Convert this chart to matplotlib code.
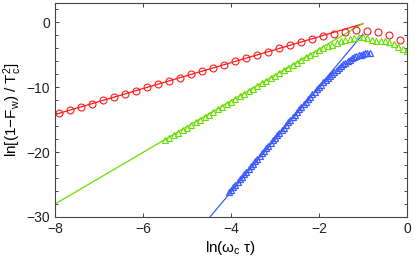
import matplotlib
matplotlib.use('Agg')
import matplotlib.pyplot as plt
from matplotlib.ticker import MultipleLocator

plt.rcParams['font.family'] = ['Liberation Sans', 'DejaVu Sans']
plt.rcParams['mathtext.fontset'] = 'custom'
plt.rcParams['mathtext.rm'] = 'Liberation Sans'
plt.rcParams['mathtext.it'] = 'Liberation Sans'

# red circles
red_x = [-7.9, -7.65, -7.4, -7.15, -6.9, -6.65, -6.4, -6.15, -5.9, -5.65, -5.4,
         -5.15, -4.9, -4.65, -4.4, -4.15, -3.9, -3.65, -3.4, -3.15, -2.9, -2.65,
         -2.4, -2.15, -1.9, -1.65, -1.4, -1.15, -0.9, -0.65, -0.4, -0.15]
red_y = [-14.0, -13.5, -13.0, -12.5, -12.0, -11.5, -11.0, -10.5, -10.0, -9.5, -9.0,
         -8.5, -8.0, -7.5, -7.0, -6.5, -6.0, -5.5, -5.0, -4.5, -4.0, -3.5,
         -3.0, -2.55, -2.15, -1.85, -1.45, -1.15, -1.25, -1.45, -2.0, -2.75]
red_fit_x = [-8.0, -1.0]
red_fit_y = [-14.2, -0.2]

# green triangles
green_x = [-5.5, -5.4, -5.3, -5.2, -5.1, -5.0, -4.9, -4.8, -4.7, -4.6, -4.5, -4.4,
           -4.3, -4.2, -4.1, -4.0, -3.9, -3.8, -3.7, -3.6, -3.5, -3.4, -3.3, -3.2,
           -3.1, -3.0, -2.9, -2.8, -2.7, -2.6, -2.5, -2.4, -2.3, -2.2, -2.1, -2.0,
           -1.9, -1.8, -1.7, -1.6, -1.5, -1.4, -1.3, -1.2, -1.1, -1.0, -0.9, -0.8,
           -0.7, -0.6, -0.5, -0.4, -0.3, -0.2, -0.1, 0.0]
green_y = [-18.2, -17.8, -17.4, -17.0, -16.6, -16.2, -15.8, -15.4, -15.0, -14.6,
           -14.2, -13.8, -13.4, -13.0, -12.6, -12.2, -11.8, -11.4, -11.0, -10.6,
           -10.2, -9.8, -9.4, -9.0, -8.6, -8.2, -7.8, -7.4, -7.0, -6.6, -6.2, -5.8,
           -5.4, -5.0, -4.65, -4.3, -4.0, -3.7, -3.4, -3.15, -2.9, -2.7, -2.5, -2.35,
           -2.25, -2.2, -2.45, -2.7, -2.85, -2.9, -2.9, -2.95, -3.3, -3.85, -4.1, -4.35]
green_fit_x = [-8.0, -1.0]
green_fit_y = [-28.0, -0.15]

# blue triangles
blue_x = [-4.05, -4.0, -3.95, -3.9, -3.85, -3.8, -3.75, -3.7, -3.65, -3.6, -3.55,
          -3.5, -3.45, -3.4, -3.35, -3.3, -3.25, -3.2, -3.15, -3.1, -3.05, -3.0,
          -2.95, -2.9, -2.85, -2.8, -2.75, -2.7, -2.65, -2.6, -2.55, -2.5, -2.45,
          -2.4, -2.35, -2.3, -2.25, -2.2, -2.15, -2.1, -2.05, -2.0, -1.95, -1.9,
          -1.85, -1.8, -1.75, -1.7, -1.65, -1.6, -1.55, -1.5, -1.45, -1.4, -1.35,
          -1.3, -1.25, -1.2, -1.15, -1.1, -1.05, -1.0, -0.95, -0.9, -0.85]
blue_y = [-26.2, -25.8, -25.4, -25.0, -24.6, -24.2, -23.8, -23.4, -23.0, -22.6,
          -22.2, -21.8, -21.4, -21.0, -20.6, -20.2, -19.8, -19.4, -19.0, -18.6,
          -18.2, -17.8, -17.4, -17.0, -16.6, -16.2, -15.8, -15.4, -15.0, -14.6,
          -14.2, -13.8, -13.4, -13.0, -12.6, -12.2, -11.8, -11.45, -11.05, -10.7,
          -10.3, -9.95, -9.6, -9.25, -8.9, -8.55, -8.2, -7.9, -7.6, -7.3, -7.0,
          -6.7, -6.45, -6.2, -5.95, -5.75, -5.55, -5.35, -5.2, -5.05, -4.95, -4.85,
          -4.75, -4.7, -4.65]
blue_fit_x = [-4.55, -1.0]
blue_fit_y = [-30.6, -1.8]

red = '#ff1a1a'
green = '#66e000'
blue = '#3a5aff'

fig = plt.figure(figsize=(4.15, 2.62), dpi=100)
ax = fig.add_axes([0.1325, 0.1718, 0.848, 0.8167])

ax.plot(red_fit_x, red_fit_y, color=red, lw=0.9)
ax.plot(green_fit_x, green_fit_y, color=green, lw=0.9)
ax.plot(blue_fit_x, blue_fit_y, color=blue, lw=0.9)
ax.plot(red_x, red_y, 'o', ms=5, mfc='none', mec=red, mew=0.8)
ax.plot(green_x, green_y, '^', ms=5, mfc='none', mec=green, mew=0.8)
ax.plot(blue_x, blue_y, '^', ms=5, mfc='none', mec=blue, mew=0.9)

ax.set_xlim(-8, 0)
ax.set_ylim(-30, 3)
ax.set_xticks([-8, -6, -4, -2, 0])
ax.set_yticks([-30, -20, -10, 0])
ax.yaxis.set_minor_locator(MultipleLocator(2))
ax.tick_params(direction='in', top=True, right=True, labelsize=10,
               length=3, width=0.6, colors='#222222')
ax.tick_params(which='minor', direction='in', right=True, left=True,
               length=2, width=0.5)
for s in ax.spines.values():
    s.set_color('#444444')
    s.set_linewidth(0.8)

ax.set_xlabel(r'ln($\omega_{\rm c}$ $\tau$)', fontsize=11, labelpad=2)
ax.set_ylabel(r'ln[(1$-$F$_{\rm w}$) / T$_{\rm c}^{2}$]', fontsize=11, labelpad=2)

fig.savefig('out.png', dpi=100)
